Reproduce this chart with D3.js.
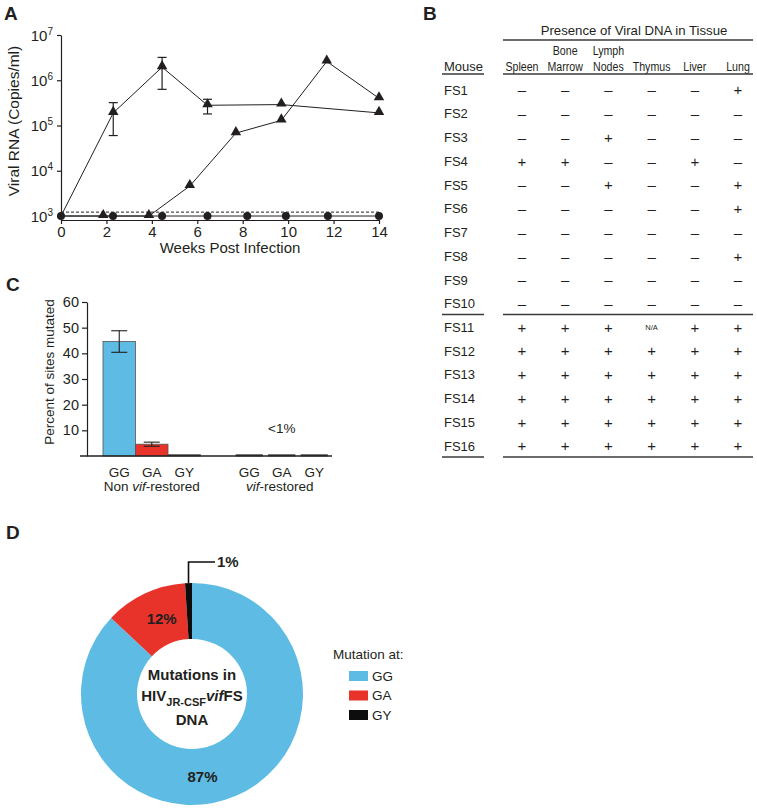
<!DOCTYPE html>
<html><head><meta charset="utf-8">
<script src="https://cdn.jsdelivr.net/npm/d3@7"></script>
<style>
body{margin:0;background:#fff}
svg{display:block}
text{font-family:"Liberation Sans",Arial,Helvetica,sans-serif;fill:#231f20}
</style>
</head><body><svg id="c" width="757" height="809"></svg>
<script>
// ---------- Panel A data ----------
const weekTicks = [0, 2, 4, 6, 8, 10, 12, 14];
const logExponents = [3, 4, 5, 6, 7];
const seriesA1 = [[0, 1e3], [2.3, 1.9e5], [4.45, 1.95e6], [6.45, 2.8e5], [9.7, 2.9e5], [14, 1.9e5]];
const errA1 = [[2.3, 6e4, 3.2e5], [4.45, 6.3e5, 3.2e6], [6.45, 1.8e5, 3.8e5]];
const seriesA2 = [[0, 1e3], [1.86, 1e3], [3.87, 1e3], [5.67, 4.6e3], [7.7, 6.8e4], [9.7, 1.3e5], [11.7, 2.6e6], [14, 4e5]];
const seriesA3 = [[0, 1e3], [2.29, 1e3], [4.45, 1e3], [6.45, 1e3], [8.2, 1e3], [9.9, 1e3], [11.75, 1e3], [14, 1e3]];
const detectionLimit = 1.22e3;

// ---------- Panel B data ----------
const tissueTop = ["", "Bone", "Lymph", "", "", ""];
const tissueBottom = ["Spleen", "Marrow", "Nodes", "Thymus", "Liver", "Lung"];
const mice = ["FS1","FS2","FS3","FS4","FS5","FS6","FS7","FS8","FS9","FS10","FS11","FS12","FS13","FS14","FS15","FS16"];
const presence = [
  ["-","-","-","-","-","+"],
  ["-","-","-","-","-","-"],
  ["-","-","+","-","-","-"],
  ["+","+","-","-","+","-"],
  ["-","-","+","-","-","+"],
  ["-","-","-","-","-","+"],
  ["-","-","-","-","-","-"],
  ["-","-","-","-","-","+"],
  ["-","-","-","-","-","-"],
  ["-","-","-","-","-","-"],
  ["+","+","+","N/A","+","+"],
  ["+","+","+","+","+","+"],
  ["+","+","+","+","+","+"],
  ["+","+","+","+","+","+"],
  ["+","+","+","+","+","+"],
  ["+","+","+","+","+","+"]
];

// ---------- Panel C data ----------
const mutCats = ["GG", "GA", "GY"];
const groupNames = ["Non", "vif"];
const pctNonRestored = [44.6, 4.6, 0.5];
const errNonRestored = [4.2, 0.8, 0];
const pctVifRestored = [0.5, 0.5, 0.5];
const cTicks = [10, 20, 30, 40, 50, 60];

// ---------- Panel D data ----------
const donutCats = ["GG", "GA", "GY"];
const donutValues = [87, 12, 1];
const donutLabels = ["87%", "12%", "1%"];

const ink = "#231f20";
const blue = "#5dbbe4", red = "#e8332a", black = "#0d0d0d";
const svg = d3.select("#c");

function panelLetter(t, x, y) {
  svg.append("text").attr("x", x).attr("y", y).attr("font-size", 19).attr("font-weight", "bold").text(t);
}
function styleAxis(g) {
  g.selectAll("path,line").attr("stroke", ink).attr("stroke-width", 1.2);
}

// ================= Panel A =================
panelLetter("A", 4, 20);
const xA = d3.scaleLinear().domain([0, 14]).range([61, 379]);
const yA = d3.scaleLog().domain([Math.pow(10, 2.912), 1e7]).range([220, 35]);
const gA = svg.append("g");

const xAxA = gA.append("g").attr("transform", "translate(0,220)")
  .call(d3.axisBottom(xA).tickValues(weekTicks).tickSize(4).tickSizeOuter(0).tickPadding(2));
xAxA.selectAll("text").attr("font-size", 15).attr("fill", ink).attr("font-family", null);
styleAxis(xAxA);

const yAxA = gA.append("g").attr("transform", "translate(61,0)")
  .call(d3.axisLeft(yA).tickValues(logExponents.map(e => Math.pow(10, e))).tickSize(4).tickSizeOuter(0).tickFormat(""));
styleAxis(yAxA);
logExponents.forEach(e => {
  const t = gA.append("text").attr("x", 53).attr("y", yA(Math.pow(10, e)) + 5.5)
    .attr("text-anchor", "end").attr("font-size", 15);
  t.append("tspan").text("10");
  t.append("tspan").attr("dy", -6).attr("font-size", 10).text(e);
});
gA.append("text").attr("transform", "translate(19,121) rotate(-90)").attr("text-anchor", "middle")
  .attr("font-size", 15.5).text("Viral RNA (Copies/ml)");
gA.append("text").attr("x", 230).attr("y", 253).attr("text-anchor", "middle").attr("font-size", 15)
  .text("Weeks Post Infection");

gA.append("line").attr("x1", xA(0)).attr("x2", xA(14)).attr("y1", yA(detectionLimit)).attr("y2", yA(detectionLimit))
  .attr("stroke", ink).attr("stroke-width", 1).attr("stroke-dasharray", "3,2");

const lineA = d3.line().x(d => xA(d[0])).y(d => yA(d[1]));
[seriesA3, seriesA1, seriesA2].forEach(s => {
  gA.append("path").attr("d", lineA(s)).attr("fill", "none").attr("stroke", ink).attr("stroke-width", 1);
});
errA1.forEach(d => {
  const x = xA(d[0]);
  gA.append("line").attr("x1", x).attr("x2", x).attr("y1", yA(d[1])).attr("y2", yA(d[2])).attr("stroke", ink).attr("stroke-width", 1.2);
  [d[1], d[2]].forEach(v => gA.append("line").attr("x1", x - 4.5).attr("x2", x + 4.5).attr("y1", yA(v)).attr("y2", yA(v)).attr("stroke", ink).attr("stroke-width", 1.2));
});
const tri = d3.symbol().type(d3.symbolTriangle).size(48);
gA.selectAll(".c3").data(seriesA3).join("circle")
  .attr("cx", d => xA(d[0])).attr("cy", d => yA(d[1])).attr("r", 4).attr("fill", ink);
gA.selectAll(".t1").data(seriesA1.slice(1).concat(seriesA2.slice(1))).join("path")
  .attr("d", tri).attr("transform", d => `translate(${xA(d[0])},${yA(d[1]) - 1})`).attr("fill", ink);

// ================= Panel B =================
panelLetter("B", 423, 20);
const gB = svg.append("g");
const colX = d3.scalePoint().domain(tissueBottom).range([522, 738]);
const rowY = d3.scalePoint().domain(mice).range([90, 446]);
const lineB = (x1, x2, y) => gB.append("line").attr("x1", x1).attr("x2", x2).attr("y1", y).attr("y2", y)
  .attr("stroke", "#3a3a3a").attr("stroke-width", 1.5);

gB.append("text").attr("x", 634).attr("y", 35).attr("text-anchor", "middle").attr("font-size", 13.2)
  .text("Presence of Viral DNA in Tissue");
lineB(503, 753, 40);
const headers = [];
tissueBottom.forEach((t, i) => {
  if (tissueTop[i]) headers.push(gB.append("text").attr("x", colX(t)).attr("y", 55).attr("text-anchor", "middle").attr("font-size", 12.5).text(tissueTop[i]));
  headers.push(gB.append("text").attr("x", colX(t)).attr("y", 71).attr("text-anchor", "middle").attr("font-size", 12.5).text(t));
});
headers.forEach(h => {
  const w = h.node().getComputedTextLength();
  h.attr("textLength", w * 0.85).attr("lengthAdjust", "spacingAndGlyphs");
});
gB.append("text").attr("x", 444).attr("y", 71).attr("font-size", 13).text("Mouse");
lineB(442, 484, 74);
lineB(503, 753, 74);

mice.forEach((m, i) => {
  gB.append("text").attr("x", 444).attr("y", rowY(m)).attr("dy", "0.36em").attr("font-size", 13).text(m);
  presence[i].forEach((v, j) => {
    const isNA = v === "N/A";
    gB.append("text").attr("x", colX(tissueBottom[j])).attr("y", rowY(m)).attr("dy", isNA ? "0.35em" : "0.36em")
      .attr("text-anchor", "middle").attr("font-size", isNA ? 7.5 : 15)
      .text(v === "-" ? "\u2013" : v);
  });
});
const sepY = rowY("FS10") + 11;
lineB(442, 484, sepY);
lineB(503, 753, sepY);
const endY = rowY("FS16") + 11;
lineB(442, 484, endY);
lineB(503, 753, endY);

// ================= Panel C =================
panelLetter("C", 6, 291);
const gC = svg.append("g");
const slots = [];
groupNames.forEach((g, gi) => {
  mutCats.forEach(c => slots.push(g + "|" + c));
  if (gi === 0) slots.push("gap");
});
const xC = d3.scaleBand().domain(slots).range([103, 330.5]).padding(0);
const yC = d3.scaleLinear().domain([0, 60]).range([456, 302]);
const barsC = [];
mutCats.forEach((c, j) => barsC.push({ key: "Non|" + c, cat: c, v: pctNonRestored[j], e: errNonRestored[j], color: [blue, red, "#2b2b2b"][j], inset: 0 }));
mutCats.forEach((c, j) => barsC.push({ key: "vif|" + c, cat: c, v: pctVifRestored[j], e: 0, color: "#2b2b2b", inset: 3 }));

gC.selectAll("rect").data(barsC).join("rect")
  .attr("x", d => xC(d.key) + d.inset).attr("width", d => xC.bandwidth() - 2 * d.inset)
  .attr("y", d => yC(d.v)).attr("height", d => yC(0) - yC(d.v))
  .attr("fill", d => d.color).attr("stroke", "#555").attr("stroke-width", 0.8);
barsC.filter(d => d.e > 0).forEach(d => {
  const cx = xC(d.key) + xC.bandwidth() / 2;
  gC.append("line").attr("x1", cx).attr("x2", cx).attr("y1", yC(d.v - d.e)).attr("y2", yC(d.v + d.e)).attr("stroke", ink).attr("stroke-width", 1.1);
  [d.v - d.e, d.v + d.e].forEach(v => gC.append("line").attr("x1", cx - 8).attr("x2", cx + 8).attr("y1", yC(v)).attr("y2", yC(v)).attr("stroke", ink).attr("stroke-width", 1.1));
});

const yAxC = gC.append("g").attr("transform", "translate(87,0)")
  .call(d3.axisLeft(yC).tickValues(cTicks).tickSize(5).tickSizeOuter(0).tickPadding(3));
yAxC.selectAll("text").attr("font-size", 14.5).attr("fill", ink).attr("font-family", null);
styleAxis(yAxC);
gC.append("line").attr("x1", 80).attr("x2", 332).attr("y1", yC(0)).attr("y2", yC(0)).attr("stroke", ink).attr("stroke-width", 1.4);

barsC.forEach(d => {
  gC.append("text").attr("x", xC(d.key) + xC.bandwidth() / 2).attr("y", 477).attr("text-anchor", "middle")
    .attr("font-size", 13.5).text(d.cat);
});
const g1c = (xC("Non|GG") + xC("Non|GY") + xC.bandwidth()) / 2;
const g2c = (xC("vif|GG") + xC("vif|GY") + xC.bandwidth()) / 2;
const tNon = gC.append("text").attr("x", g1c).attr("y", 491).attr("text-anchor", "middle").attr("font-size", 13.5);
tNon.append("tspan").text("Non ");
tNon.append("tspan").attr("font-style", "italic").text("vif");
tNon.append("tspan").text("-restored");
const tVif = gC.append("text").attr("x", g2c - 2).attr("y", 491).attr("text-anchor", "middle").attr("font-size", 13.5);
tVif.append("tspan").attr("font-style", "italic").text("vif");
tVif.append("tspan").text("-restored");
gC.append("text").attr("x", xC("vif|GA") + xC.bandwidth() / 2).attr("y", 433).attr("text-anchor", "middle")
  .attr("font-size", 13.5).text("<1%");
gC.append("text").attr("transform", "translate(54,372) rotate(-90)").attr("text-anchor", "middle")
  .attr("font-size", 13.5).text("Percent of sites mutated");

// ================= Panel D =================
panelLetter("D", 6, 539);
const gD = svg.append("g").attr("transform", "translate(192,694)");
const pie = d3.pie().sort(null).value(d => d)(donutValues);
const arc = d3.arc().innerRadius(55).outerRadius(111);
const colorsD = [blue, red, black];
gD.selectAll("path").data(pie).join("path").attr("d", arc).attr("fill", (d, i) => colorsD[i]);

// labels: GG near bottom, GA at centroid, GY via leader line
const labelArc = d3.arc().innerRadius(83).outerRadius(83);
const ggAngle = Math.PI * 0.975;
gD.append("text").attr("x", 83 * Math.sin(ggAngle) + 4).attr("y", -83 * Math.cos(ggAngle)).attr("dy", "0.35em")
  .attr("text-anchor", "middle").attr("font-size", 15).attr("font-weight", "bold").text(donutLabels[0]);
const ca = labelArc.centroid(pie[1]);
gD.append("text").attr("x", ca[0] + 5).attr("y", ca[1]).attr("dy", "0.35em")
  .attr("text-anchor", "middle").attr("font-size", 15).attr("font-weight", "bold").text(donutLabels[1]);
const gyMid = (pie[2].startAngle + pie[2].endAngle) / 2;
const lx = 111 * Math.sin(gyMid);
gD.append("path").attr("d", `M${lx},-111V-132H23`).attr("fill", "none").attr("stroke", black).attr("stroke-width", 1.6);
gD.append("text").attr("x", 25).attr("y", -132).attr("dy", "0.35em").attr("font-size", 15).attr("font-weight", "bold")
  .text(donutLabels[2]);

// centre text
const ct = gD.append("g").attr("font-weight", "bold");
ct.append("text").attr("y", -14).attr("text-anchor", "middle").attr("font-size", 15).attr("font-weight", "bold").text("Mutations in");
const hiv = ct.append("text").attr("y", 7).attr("text-anchor", "middle").attr("font-size", 15).attr("font-weight", "bold");
hiv.append("tspan").text("HIV");
hiv.append("tspan").attr("font-size", 11).attr("dy", 5).text("JR-CSF");
hiv.append("tspan").attr("font-style", "italic").attr("dy", -5).text("vif");
hiv.append("tspan").text("FS");
ct.append("text").attr("y", 31).attr("text-anchor", "middle").attr("font-size", 15).attr("font-weight", "bold").text("DNA");

// legend
const gL = svg.append("g");
gL.append("text").attr("x", 333).attr("y", 659).attr("font-size", 13.5).text("Mutation at:");
donutCats.forEach((c, i) => {
  const y = 676 + i * 19.5;
  gL.append("rect").attr("x", 349).attr("y", y - 5).attr("width", 19).attr("height", 10).attr("fill", colorsD[i]);
  gL.append("text").attr("x", 372).attr("y", y).attr("dy", "0.36em").attr("font-size", 13.5).text(c);
});
</script>
</body></html>
